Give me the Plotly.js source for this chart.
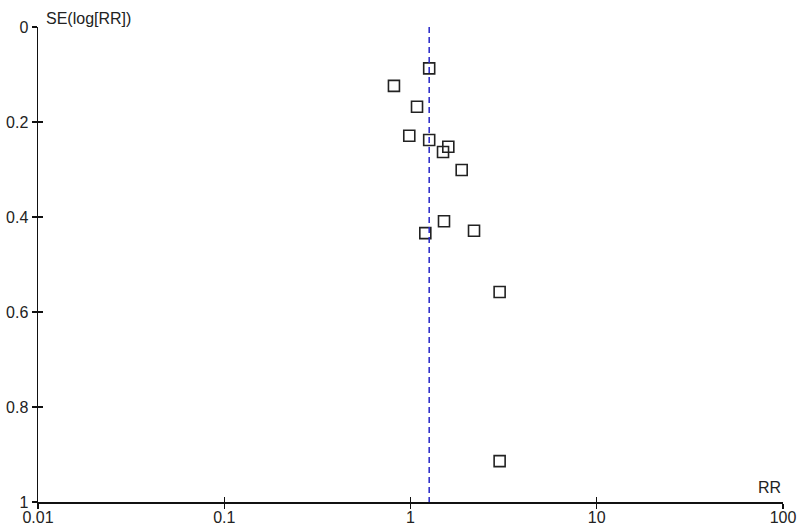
<!DOCTYPE html>
<html>
<head>
<meta charset="utf-8">
<script src="https://cdn.plot.ly/plotly-3.0.1.min.js"></script>
<style>
  html, body { margin: 0; padding: 0; background: #fff; }
  #myDiv { width: 800px; height: 532px; }
</style>
</head>
<body>
<div id="myDiv"></div>
<script>
// study estimates
var rr = [1.26, 0.815, 1.084, 0.985, 1.26, 1.596, 1.495, 1.883, 1.513, 2.193, 1.201, 3.01, 3.01];
var se = [0.087, 0.124, 0.168, 0.229, 0.238, 0.252, 0.263, 0.301, 0.409, 0.429, 0.434, 0.558, 0.914];

var pooledRR = 1.26;
var seRange = [0, 1];

var xTicks = [0.01, 0.1, 1, 10, 100];
var xTickText = ['0.01', '0.1', '1', '10', '100'];
var yTicks = [0, 0.2, 0.4, 0.6, 0.8, 1];
var yTickText = ['0', '0.2', '0.4', '0.6', '0.8', '1'];

var font = {family: 'Liberation Sans, Arial, sans-serif', size: 16, color: '#222'};

var studies = {
  x: rr,
  y: se,
  mode: 'markers',
  type: 'scatter',
  marker: {symbol: 'square-open', size: 11, color: '#222', line: {width: 1.6, color: '#222'}},
  cliponaxis: false,
  hoverinfo: 'x+y'
};

// pooled estimate, drawn on the overlay axes so those get drawn too
var pooled = {
  x: [pooledRR, pooledRR],
  y: seRange,
  xaxis: 'x2',
  yaxis: 'y2',
  mode: 'lines',
  type: 'scatter',
  line: {color: '#2626c8', width: 1.5, dash: '6px,4px'},
  hoverinfo: 'none'
};

var data = [pooled, studies];

var axisCommon = {
  showgrid: false,
  zeroline: false,
  showline: true,
  linecolor: '#111',
  linewidth: 1.5,
  tickcolor: '#111',
  tickwidth: 1.3,
  ticklen: 5,
  tickfont: font,
  fixedrange: true
};

var layout = {
  width: 800,
  height: 532,
  margin: {l: 38, r: 17, t: 27, b: 30},
  paper_bgcolor: '#fff',
  plot_bgcolor: 'rgba(0,0,0,0)',
  showlegend: false,
  font: font,
  xaxis: Object.assign({}, axisCommon, {
    type: 'log',
    range: [-2, 2],
    tickmode: 'array',
    tickvals: xTicks,
    ticktext: xTickText,
    ticks: 'inside'
  }),
  yaxis: Object.assign({}, axisCommon, {
    range: [1, 0],
    tickmode: 'array',
    tickvals: yTicks,
    ticktext: yTickText,
    ticks: 'outside'
  }),
  xaxis2: Object.assign({}, axisCommon, {
    type: 'log',
    range: [-2, 2],
    overlaying: 'x',
    anchor: 'y2',
    side: 'bottom',
    tickmode: 'array',
    tickvals: xTicks,
    ticks: 'outside',
    showticklabels: false
  }),
  yaxis2: Object.assign({}, axisCommon, {
    range: [1, 0],
    overlaying: 'y',
    anchor: 'x2',
    side: 'left',
    tickmode: 'array',
    tickvals: yTicks,
    ticks: 'inside',
    showticklabels: false
  }),
  annotations: [
    {
      text: 'SE(log[RR])',
      xref: 'paper', yref: 'paper',
      x: 0, y: 1,
      xanchor: 'left', yanchor: 'bottom',
      xshift: 6, yshift: -2,
      showarrow: false,
      font: font
    },
    {
      text: 'RR',
      xref: 'paper', yref: 'paper',
      x: 1, y: 0,
      xanchor: 'right', yanchor: 'bottom',
      xshift: 0, yshift: 4,
      showarrow: false,
      font: font
    }
  ]
};

Plotly.newPlot('myDiv', data, layout, {displayModeBar: false, staticPlot: true});
</script>
</body>
</html>
